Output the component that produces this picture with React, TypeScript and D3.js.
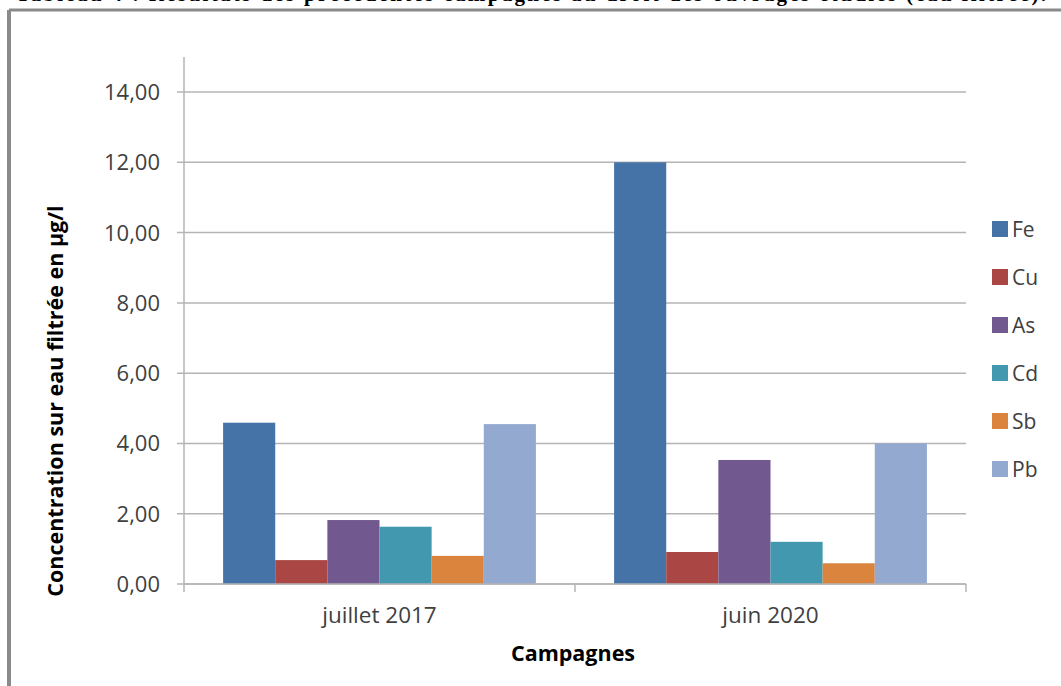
import { useEffect } from "react";
import * as d3 from "d3";

const campaigns = ["juillet 2017", "juin 2020"];
const metals = ["Fe", "Cu", "As", "Cd", "Sb", "Pb"];
const values2017 = [4.59, 0.68, 1.82, 1.63, 0.8, 4.55];
const values2020 = [12.0, 0.91, 3.53, 1.2, 0.59, 4.0];
const yTicks = [0, 2, 4, 6, 8, 10, 12, 14];

const COLORS: Record<string, string> = {
  Fe: "#4572A7",
  Cu: "#AA4643",
  As: "#71588F",
  Cd: "#4198AF",
  Sb: "#DB843D",
  Pb: "#93A9CF",
};

const W = 1061;
const H = 686;
const FONT = "'Open Sans', 'Noto Sans', sans-serif";

export default function App() {
  useEffect(() => {
    document.body.style.margin = "0";
  }, []);

  const left = 184;
  const right = 966;
  const bottom = 584;

  const x0 = d3.scaleBand<string>().domain(campaigns).range([left, right]);
  const groupWidth = x0.bandwidth() * 0.8;
  const xi = d3.scaleBand<string>().domain(metals).range([0, groupWidth]);
  const y = d3.scaleLinear().domain([0, 15]).range([bottom, bottom - 15 * 35.14]);

  const rows = campaigns.map((c, ci) => ({
    campaign: c,
    values: (ci === 0 ? values2017 : values2020).map((v, i) => ({ metal: metals[i], v })),
  }));

  const fmt = (v: number) => v.toFixed(2).replace(".", ",");
  const barOffset = (x0.bandwidth() - groupWidth) / 2;

  return (
    <svg width={W} height={H} style={{ display: "block", background: "#fff" }}>
      {/* caption of the document, mostly cut off at the top */}
      <text
        x={16}
        y={1}
        fontFamily="'Liberation Serif', serif"
        fontWeight="bold"
        fontSize={21}
        fill="#000"
        textLength={1030}
      >
        Tableau 4 : Résultats des précédentes campagnes au droit des ouvrages étudiés (eau filtrée).
      </text>
      <line x1={9} y1={10} x2={W} y2={10} stroke="#8a8a8a" strokeWidth={3} />
      <line x1={9} y1={10} x2={9} y2={H} stroke="#8a8a8a" strokeWidth={4} />

      {/* gridlines + y ticks */}
      {yTicks.map((t) => (
        <g key={t}>
          <line x1={left - 7} x2={right} y1={y(t)} y2={y(t)} stroke="#b4b4b4" strokeWidth={1.5} />
          <text
            x={160}
            y={y(t)}
            dy="0.36em"
            textAnchor="end"
            fontFamily={FONT}
            fontSize={22}
            fill="#404040"
          >
            {fmt(t)}
          </text>
        </g>
      ))}
      <line x1={left} x2={left} y1={y(15)} y2={bottom} stroke="#b4b4b4" strokeWidth={1.5} />

      {/* bars */}
      {rows.map((r) => (
        <g key={r.campaign} transform={`translate(${(x0(r.campaign) ?? 0) + barOffset},0)`}>
          {r.values.map((d) => (
            <rect
              key={d.metal}
              x={xi(d.metal)}
              y={y(d.v)}
              width={xi.bandwidth()}
              height={bottom - y(d.v)}
              fill={COLORS[d.metal]}
            />
          ))}
        </g>
      ))}

      {/* x axis */}
      <line x1={left} x2={right} y1={bottom} y2={bottom} stroke="#b4b4b4" strokeWidth={1.5} />
      {[...campaigns.map((c) => x0(c) ?? 0), right].map((tx, i) => (
        <line key={i} x1={tx} x2={tx} y1={bottom} y2={bottom + 8} stroke="#b4b4b4" strokeWidth={1.5} />
      ))}
      {campaigns.map((c) => (
        <text
          key={c}
          x={(x0(c) ?? 0) + x0.bandwidth() / 2}
          y={623}
          textAnchor="middle"
          fontFamily={FONT}
          fontSize={22.5}
          fill="#404040"
        >
          {c}
        </text>
      ))}

      <text x={573} y={661} textAnchor="middle" fontFamily={FONT} fontWeight="bold" fontSize={21.5} fill="#000">
        Campagnes
      </text>
      <text
        transform="translate(63,401) rotate(-90)"
        textAnchor="middle"
        fontFamily={FONT}
        fontWeight="bold"
        fontSize={21.5}
        fill="#000"
      >
        Concentration sur eau filtrée en µg/l
      </text>

      {/* legend */}
      {metals.map((m, i) => (
        <g key={m} transform={`translate(992,${229 + i * 48})`}>
          <rect x={0} y={-8} width={16} height={16} fill={COLORS[m]} />
          <text x={20} y={0} dy="0.36em" fontFamily={FONT} fontSize={21} fill="#404040">
            {m}
          </text>
        </g>
      ))}
    </svg>
  );
}
